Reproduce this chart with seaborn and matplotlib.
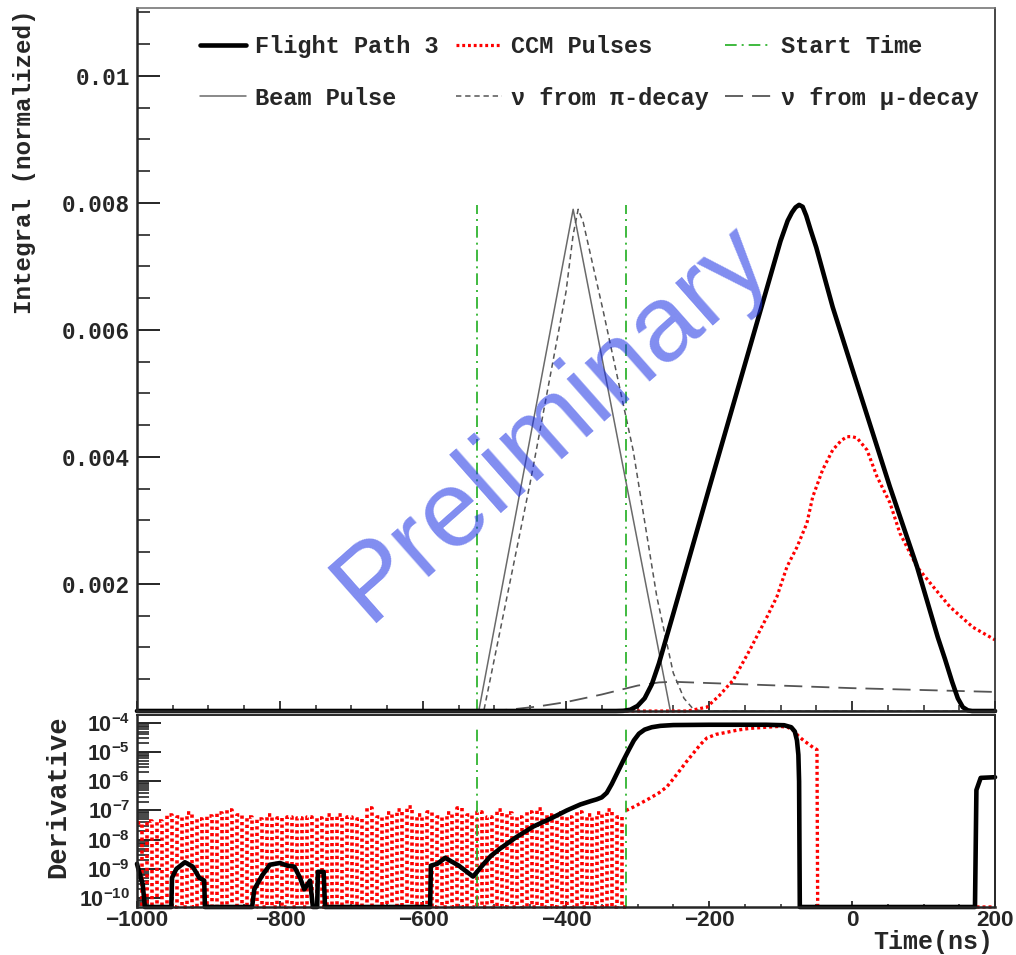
import numpy as np
import pandas as pd
import matplotlib
matplotlib.use("Agg")
import matplotlib.pyplot as plt
import seaborn as sns
from matplotlib.ticker import MultipleLocator, FixedLocator, FixedFormatter, LogLocator, NullFormatter
from matplotlib.lines import Line2D
from matplotlib.font_manager import FontProperties

# ---------------- data ----------------
# Top panel: normalized timing distributions (time in ns)
fp3_t = [-1000, -330, -320, -310, -300, -290, -280, -270, -260, -250, -200, -150, -100, -90,
         -84, -79, -74, -69, -64, -58, -50, -27, 0, 53, 91, 120, 130, 140, 148, 155, 162, 168, 200]
fp3_v = [0, 0, 0.000003, 0.00002, 0.00008, 0.0002, 0.00042, 0.00075, 0.00114, 0.00153, 0.0035,
         0.00545, 0.0074, 0.00772, 0.00785, 0.00793, 0.00797, 0.00794, 0.0078, 0.00758, 0.0073,
         0.00636, 0.0054, 0.00353, 0.00227, 0.00116, 0.00082, 0.00046, 0.0002, 0.00006, 0.00001,
         0, 0]

ccm_t = [-1000, -230, -203, -185, -166, -143, -119, -105, -91, -77, -63, -55, -41, -27, -15,
         -7, 0, 7, 21, 35, 53, 67, 91, 109, 137, 169, 200]
ccm_v = [0, 0, 0.00006, 0.00025, 0.00049, 0.00096, 0.00148, 0.0018, 0.00227, 0.00258, 0.00296,
         0.00337, 0.0038, 0.00411, 0.00426, 0.00432, 0.00432, 0.0043, 0.00411, 0.00369, 0.00328,
         0.0028, 0.00227, 0.00202, 0.00164, 0.00132, 0.00112]

beam_t = [-1000, -522, -390, -254, 200]
beam_v = [0, 0, 0.0079, 0, 0]

pi_t = [-1000, -515, -450, -400, -390, -383, -376, -348, -306, -273, -250, -235, -222, -210, 200]
pi_v = [0, 0, 0.0036, 0.0066, 0.0075, 0.0079, 0.0077, 0.0063, 0.0041, 0.0018, 0.0006, 0.0002,
        0.00003, 0, 0]

mu_t = [-1000, -525, -480, -440, -400, -350, -300, -270, -250, -200, -100, 0, 100, 200]
mu_v = [0, 0, 0.00002, 0.00007, 0.00014, 0.00026, 0.0004, 0.00045, 0.00046, 0.00044, 0.0004,
        0.00036, 0.00033, 0.0003]

start_times = [-525, -316]
start_top_integral = 0.00797
start_top_deriv = 8e-5

# Bottom panel: derivatives
d_fp3_t = [-1000, -997, -992, -989, -952, -951, -945, -933, -922, -913, -906, -905, -839, -836,
           -825, -814, -800, -790, -780, -772, -766, -758, -754, -748, -747, -739, -737, -590,
           -589, -580, -569, -550, -530, -515, -505, -492, -470, -446, -420, -399, -380, -365,
           -357, -350, -343, -336, -328, -320, -312, -305, -298, -290, -280, -268, -250, -200,
           -120, -95, -85, -80, -77, -75, -74, -73, 172, 174, 180, 200]
d_fp3_v = [1.5e-9, 8e-10, 3e-10, 0, 0, 5e-10, 1e-9, 1.7e-9, 1.2e-9, 5e-10, 4e-10, 0, 0, 2e-10,
           6e-10, 1.4e-9, 1.6e-9, 1.3e-9, 1.2e-9, 5e-10, 2e-10, 4e-10, 0, 0, 8e-10, 8e-10, 0, 0,
           1.3e-9, 1.5e-9, 2.4e-9, 1.3e-9, 5.5e-10, 1.5e-9, 2.8e-9, 5e-9, 1.2e-8, 2.8e-8, 5.5e-8,
           1e-7, 1.6e-7, 2.1e-7, 2.4e-7, 2.8e-7, 4e-7, 8e-7, 2e-6, 5e-6, 1.2e-5, 2.5e-5, 4.2e-5,
           5.8e-5, 7e-5, 7.8e-5, 8.3e-5, 8.5e-5, 8.5e-5, 8.2e-5, 7e-5, 5e-5, 2.5e-5, 8e-6, 1e-6,
           0, 0, 5e-7, 1.3e-6, 1.37e-6]

# CCM derivative before the start time: alternating 7 ns bins, peak heights (x 1e-8)
ccm_noise_start = -1000
ccm_noise_bin = 7
ccm_noise_peaks = [3.8, 4.5, 4.2, 7, 6, 8, 5, 6.5, 8, 10, 7, 6, 5, 7, 5.5, 6, 5.5, 6, 5.5, 7, 7,
                   6, 5, 12, 6, 8, 10, 13, 7, 9, 6, 8, 12, 7, 9, 6, 10, 8, 6, 9, 11, 7, 8, 6, 9,
                   7, 8, 10, 6]

d_ccm_t = [-316, -306, -295, -283, -270, -259, -250, -241, -232, -222, -212, -203, -190, -175,
           -160, -143, -120, -101, -90, -82, -75, -68, -60, -54, -49, -48, 200]
d_ccm_v = [1e-7, 1.3e-7, 1.8e-7, 2.6e-7, 4e-7, 6.4e-7, 1.2e-6, 2.3e-6, 4.5e-6, 9e-6, 1.8e-5,
           3e-5, 4e-5, 4.7e-5, 5.6e-5, 6.4e-5, 7e-5, 7.5e-5, 7e-5, 5.5e-5, 3.5e-5, 2.5e-5,
           1.8e-5, 1.4e-5, 1.2e-5, 0, 0]

x_major = [-1000, -800, -600, -400, -200, 0, 200]
x_labels = ["\u22121000", "\u2212800", "\u2212600", "\u2212400", "\u2212200", "0", "200"]
y_top_major = [0.002, 0.004, 0.006, 0.008, 0.01]
y_top_labels = ["0.002", "0.004", "0.006", "0.008", "0.01"]
y_bot_major = [1e-10, 1e-9, 1e-8, 1e-7, 1e-6, 1e-5, 1e-4]
y_bot_labels = [r"$10^{-10}$", r"$10^{-9}$", r"$10^{-8}$", r"$10^{-7}$", r"$10^{-6}$",
                r"$10^{-5}$", r"$10^{-4}$"]

# ---------------- style ----------------
sns.set_theme(style="ticks")
plt.rcParams["font.family"] = ["Liberation Mono", "DejaVu Sans Mono"]
plt.rcParams["font.weight"] = "bold"
plt.rcParams["mathtext.fontset"] = "custom"
plt.rcParams["mathtext.rm"] = "Liberation Sans:bold"
plt.rcParams["mathtext.it"] = "Liberation Sans:bold"
plt.rcParams["mathtext.bf"] = "Liberation Sans:bold"
plt.rcParams["mathtext.default"] = "rm"

W, H = 1016, 955
fig = plt.figure(figsize=(W / 100, H / 100), dpi=100)
fig.patch.set_facecolor("white")

def frac(x0, y0, x1, y1):
    return [x0 / W, 1 - y1 / H, (x1 - x0) / W, (y1 - y0) / H]

ax = fig.add_axes(frac(137, 8, 995, 711))
axd = fig.add_axes(frac(137, 715, 995, 907))

BLACK = "black"
RED = "#ff0000"
GREEN = "#1fae1f"
GRAY = "#6a6a6a"
GRAY2 = "#555555"
dotted = (0, (0.9, 0.9))
dashdot = (0, (7, 3, 1.2, 3))
pi_dash = (0, (3.5, 2.5))
mu_dash = (0, (10, 5))

# ---------------- top panel ----------------
sns.lineplot(x=beam_t, y=beam_v, ax=ax, color=GRAY, lw=1.1, estimator=None, sort=False, clip_on=False)
sns.lineplot(x=pi_t, y=pi_v, ax=ax, color=GRAY2, lw=1.1, linestyle=pi_dash, estimator=None, sort=False)
sns.lineplot(x=mu_t, y=mu_v, ax=ax, color=GRAY2, lw=1.3, linestyle=mu_dash, estimator=None, sort=False)
ax.vlines(start_times, 0, start_top_integral, colors=GREEN, linestyles=[dashdot], lw=1.2)
sns.lineplot(x=ccm_t, y=ccm_v, ax=ax, color=RED, lw=2.3, linestyle=dotted, estimator=None,
             sort=False, clip_on=False)
sns.lineplot(x=fp3_t, y=fp3_v, ax=ax, color=BLACK, lw=3.3, estimator=None, sort=False,
             clip_on=False, solid_joinstyle="round")

ax.set_xlim(-1000, 200)
ax.set_ylim(0, 0.01107)
ax.set_xlabel("")
ax.set_ylabel("")
ax.xaxis.set_major_locator(FixedLocator(x_major))
ax.xaxis.set_minor_locator(MultipleLocator(50))
ax.yaxis.set_major_locator(FixedLocator(y_top_major))
ax.yaxis.set_major_formatter(FixedFormatter(y_top_labels))
ax.yaxis.set_minor_locator(MultipleLocator(0.0005))
ax.tick_params(axis="x", which="major", direction="in", length=7, width=1.3, labelbottom=False)
ax.tick_params(axis="x", which="minor", direction="in", length=4.3, width=1.1)
ax.tick_params(axis="y", which="major", direction="in", length=16.5, width=1.4, pad=5,
               labelsize=16.3)
ax.tick_params(axis="y", which="minor", direction="in", length=9.4, width=1.2)
for lab in ax.get_yticklabels():
    lab.set_fontweight("bold")
    lab.set_family("Liberation Mono")
for s in ["left", "bottom"]:
    ax.spines[s].set_linewidth(1.8)
for s in ["top", "right"]:
    ax.spines[s].set_linewidth(1.2)
    ax.spines[s].set_visible(True)
ax.spines["top"].set_color("#777777")

handles = [
    Line2D([], [], color=BLACK, lw=3.3),
    Line2D([], [], color=GRAY, lw=1.1),
    Line2D([], [], color=RED, lw=2.3, linestyle=dotted),
    Line2D([], [], color=GRAY2, lw=1.1, linestyle=pi_dash),
    Line2D([], [], color=GREEN, lw=1.2, linestyle=dashdot),
    Line2D([], [], color=GRAY2, lw=1.3, linestyle=mu_dash),
]
labels = ["Flight Path 3", "Beam Pulse", "CCM Pulses", "\u03bd from \u03c0-decay",
          "Start Time", "\u03bd from \u03bc-decay"]
ax.legend(handles, labels, ncol=3, loc="upper left", bbox_to_anchor=(0.0734, 0.961),
          frameon=False, borderpad=0, borderaxespad=0, handlelength=1.95, handletextpad=0.4,
          columnspacing=0.7, labelspacing=1.2,
          prop=FontProperties(family="Liberation Mono", weight="bold", size=17))

# ---------------- bottom panel ----------------
ylo, yhi = 10 ** -10.3, 10 ** -3.737

noise_edges = ccm_noise_start + ccm_noise_bin * np.arange(2 * len(ccm_noise_peaks) + 1)
noise_vals = np.ravel([[p * 1e-8, 0.0] for p in ccm_noise_peaks])
noise_vals = np.append(noise_vals, noise_vals[-1])
noise_vals = np.clip(noise_vals, ylo, None)
sns.lineplot(x=noise_edges, y=noise_vals, ax=axd, color=RED, lw=2.6, linestyle=dotted,
             drawstyle="steps-post", estimator=None, sort=False, clip_on=False)
sns.lineplot(x=d_ccm_t, y=np.clip(d_ccm_v, ylo, None), ax=axd, color=RED, lw=2.4,
             linestyle=dotted, estimator=None, sort=False, clip_on=False)
axd.vlines(start_times, ylo, start_top_deriv, colors=GREEN, linestyles=[dashdot], lw=1.2)
sns.lineplot(x=d_fp3_t, y=np.clip(d_fp3_v, ylo, None), ax=axd, color=BLACK, lw=3.3,
             estimator=None, sort=False, clip_on=False)

axd.set_yscale("log")
axd.set_xlim(-1000, 200)
axd.set_ylim(ylo, yhi)
axd.set_xlabel("")
axd.set_ylabel("")
axd.xaxis.set_major_locator(FixedLocator(x_major))
axd.xaxis.set_major_formatter(FixedFormatter(x_labels))
axd.xaxis.set_minor_locator(MultipleLocator(50))
axd.yaxis.set_major_locator(FixedLocator(y_bot_major))
axd.yaxis.set_major_formatter(FixedFormatter(y_bot_labels))
axd.yaxis.set_minor_locator(LogLocator(base=10, subs=np.arange(2, 10), numticks=20))
axd.yaxis.set_minor_formatter(NullFormatter())
axd.tick_params(axis="x", which="major", direction="in", length=4.5, width=1.3, pad=2.5,
                labelsize=16.2)
axd.tick_params(axis="x", which="minor", direction="in", length=2.5, width=1.1)
axd.tick_params(axis="y", which="major", direction="in", length=17, width=1.4, pad=5,
                labelsize=15.5)
axd.tick_params(axis="y", which="minor", direction="in", length=8.6, width=1.2)
for lab in axd.get_xticklabels():
    lab.set_fontweight("bold")
    lab.set_family("Liberation Sans")
for s in ["left", "bottom"]:
    axd.spines[s].set_linewidth(1.8)
for s in ["top", "right"]:
    axd.spines[s].set_linewidth(1.4)
    axd.spines[s].set_visible(True)

# ---------------- titles and watermark ----------------
fig.text(25 / W, 1 - 10 / H, "Integral (normalized)", rotation=90, ha="center", va="top",
         fontsize=17.5, fontweight="bold", family="Liberation Mono")
fig.text(58 / W, 1 - 715 / H, "Derivative", rotation=90, ha="center", va="top",
         fontsize=19.5, fontweight="bold", family="Liberation Mono")
fig.text(993 / W, 1 - 942 / H, "Time(ns)", ha="right", va="center",
         fontsize=18, fontweight="bold", family="Liberation Mono")
fig.text(571 / W, 1 - 444 / H, "Preliminary", rotation=41.5, rotation_mode="anchor",
         ha="center", va="baseline", fontsize=78, family="Liberation Sans",
         fontweight="normal", color=(24 / 255, 46 / 255, 228 / 255), alpha=0.55, zorder=10)

fig.savefig("out.png", dpi=100)
